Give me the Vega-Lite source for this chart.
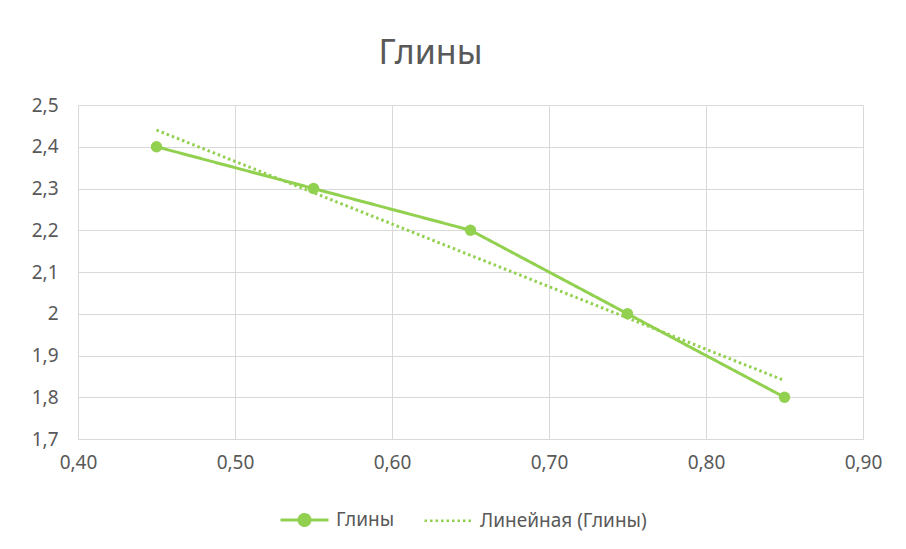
{
  "$schema": "https://vega.github.io/schema/vega-lite/v6.json",
  "width": 785,
  "height": 334,
  "autosize": {"type": "none"},
  "padding": {"left": 78, "top": 105, "right": 43, "bottom": 110},
  "background": "white",
  "config": {
    "view": {"stroke": null},
    "font": "Noto Sans",
    "axis": {
      "gridColor": "#d9d9d9",
      "domainColor": "#d9d9d9",
      "ticks": false,
      "labelColor": "#595959",
      "labelFontSize": 19,
      "labelFont": "Noto Sans",
      "title": null
    }
  },
  "title": {
    "text": "Глины",
    "fontSize": 34,
    "font": "Noto Sans",
    "fontWeight": "normal",
    "color": "#595959",
    "anchor": "middle",
    "baseline": "alphabetic",
    "dx": -40,
    "dy": 40,
    "offset": 38
  },
  "data": {
    "values": [
      {"x": 0.45, "y": 2.4, "series": "Глины"},
      {"x": 0.55, "y": 2.3, "series": "Глины"},
      {"x": 0.65, "y": 2.2, "series": "Глины"},
      {"x": 0.75, "y": 2.0, "series": "Глины"},
      {"x": 0.85, "y": 1.8, "series": "Глины"},
      {"x": 0.45, "y": 2.44, "series": "Линейная (Глины)"},
      {"x": 0.85, "y": 1.84, "series": "Линейная (Глины)"}
    ]
  },
  "layer": [
    {
      "mark": {"type": "line", "color": "#92D050", "strokeWidth": 3},
      "encoding": {
        "x": {
          "field": "x", "type": "quantitative",
          "scale": {"domain": [0.4, 0.9], "nice": false, "zero": false},
          "axis": {
            "values": [0.4, 0.5, 0.6, 0.7, 0.8, 0.9],
            "labelExpr": "replace(format(datum.value, '.2f'), '.', ',')",
            "labelFlush": false,
            "labelPadding": 14
          }
        },
        "y": {
          "field": "y", "type": "quantitative",
          "scale": {"domain": [1.7, 2.5], "nice": false, "zero": false},
          "axis": {
            "values": [1.7, 1.8, 1.9, 2.0, 2.1, 2.2, 2.3, 2.4, 2.5],
            "labelExpr": "replace(format(datum.value, '.1~f'), '.', ',')",
            "labelFlush": false,
            "labelPadding": 20
          }
        },
        "strokeDash": {
          "field": "series", "type": "nominal",
          "scale": {"domain": ["Глины", "Линейная (Глины)"], "range": [[1, 0], [2.5, 3]]},
          "legend": {
            "orient": "none",
            "direction": "horizontal",
            "legendX": 217,
            "legendY": 405,
            "title": null,
            "labelFontSize": 19,
            "labelLimit": 400,
            "labelColor": "#595959",
            "labelFont": "Noto Sans",
            "symbolStrokeColor": "#92D050",
            "symbolFillColor": "#92D050",
            "symbolSize": 2300,
            "symbolStrokeWidth": 3,
            "columnPadding": 24,
            "labelOffset": 22,
            "encode": {
              "symbols": {
                "update": {
                  "shape": {"signal": "datum.value === 'Глины' ? 'M-1,0L1,0M0.23,0A0.23,0.23 0 1 1 -0.23,0A0.23,0.23 0 1 1 0.23,0' : 'M-1,0L1,0'"},
                  "fill": {"signal": "datum.value === 'Глины' ? '#92D050' : 'transparent'"},
                  "stroke": {"value": "#92D050"},
                  "strokeOpacity": {"value": 1},
                  "opacity": {"value": 1},
                  "strokeWidth": {"signal": "datum.value === 'Глины' ? 3 : 2.5"}
                }
              }
            }
          }
        },
        "detail": {"field": "series"}
      }
    },
    {
      "transform": [{"filter": "datum.series === 'Глины'"}],
      "mark": {"type": "point", "filled": true, "opacity": 1, "color": "#92D050", "size": 130},
      "encoding": {
        "x": {"field": "x", "type": "quantitative"},
        "y": {"field": "y", "type": "quantitative"}
      }
    }
  ]
}
